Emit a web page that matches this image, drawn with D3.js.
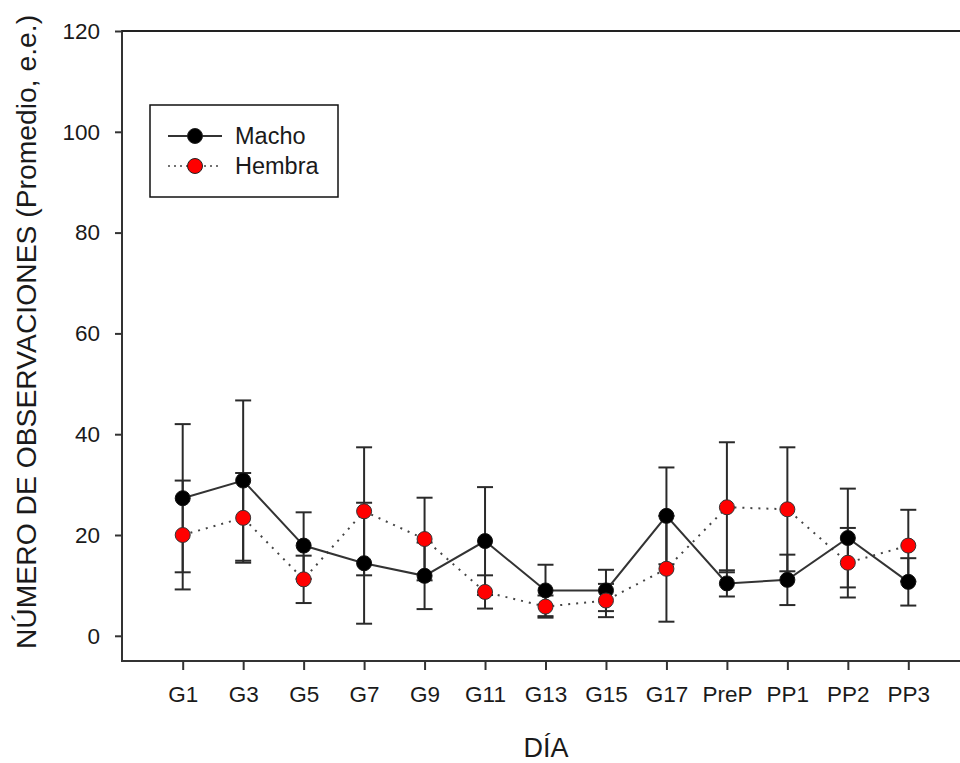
<!DOCTYPE html>
<html>
<head>
<meta charset="utf-8">
<script src="https://cdn.jsdelivr.net/npm/d3@7"></script>
<style>
  html, body { margin: 0; padding: 0; background: #fff; }
  text { font-family: "Liberation Sans", Arial, sans-serif; fill: #1a1a1a; }
</style>
</head>
<body>
<svg id="chart" width="960" height="763"></svg>
<script>
const categories = ["G1","G3","G5","G7","G9","G11","G13","G15","G17","PreP","PP1","PP2","PP3"];
const machoMean  = [27.3, 30.8, 17.9, 14.4, 11.9, 18.8, 9.0, 9.0, 23.8, 10.4, 11.1, 19.4, 10.7];
const machoErr   = [14.7, 15.9, 6.6, 12.0, 6.6, 10.7, 5.1, 4.1, 9.6, 2.6, 5.0, 9.8, 4.7];
const hembraMean = [20.0, 23.4, 11.2, 24.7, 19.2, 8.7, 5.8, 7.0, 13.3, 25.5, 25.1, 14.5, 17.9];
const hembraErr  = [10.8, 8.9, 4.7, 12.7, 8.2, 3.3, 2.2, 3.3, 10.5, 12.9, 12.3, 6.9, 7.1];
const yTicks = [0, 20, 40, 60, 80, 100, 120];
const seriesNames = ["Macho", "Hembra"];

const svg = d3.select("#chart");
const pLeft = 122, pRight = 960, pTop = 31, pBottom = 661;

const x = d3.scalePoint().domain(categories).range([182.7, 908.3]);
const y = d3.scaleLinear().domain([-5, 120]).range([pBottom, pTop]);

const axisColor = "#333";

// Axes
const gy = svg.append("g").attr("transform", `translate(${pLeft},0)`)
  .call(d3.axisLeft(y).tickValues(yTicks).tickSize(7).tickSizeOuter(0).tickPadding(15));
gy.select(".domain").remove();
gy.selectAll(".tick line").attr("stroke", axisColor).attr("stroke-width", 2);
gy.selectAll(".tick text").attr("font-size", 22.5).style("font-family", "Liberation Sans, Arial, sans-serif").attr("fill", "#1a1a1a");

const gx = svg.append("g").attr("transform", `translate(0,${pBottom})`)
  .call(d3.axisBottom(x).tickSize(9).tickPadding(16));
gx.select(".domain").remove();
gx.selectAll(".tick line").attr("stroke", axisColor).attr("stroke-width", 2);
gx.selectAll(".tick text").attr("font-size", 22.5).style("font-family", "Liberation Sans, Arial, sans-serif").attr("fill", "#1a1a1a");

svg.append("line").attr("x1", pLeft).attr("x2", pLeft).attr("y1", pTop - 1).attr("y2", pBottom + 1)
  .attr("stroke", axisColor).attr("stroke-width", 2);
svg.append("line").attr("x1", pLeft).attr("x2", pRight).attr("y1", pBottom).attr("y2", pBottom)
  .attr("stroke", axisColor).attr("stroke-width", 2);
svg.append("line").attr("x1", pLeft).attr("x2", pRight).attr("y1", pTop).attr("y2", pTop)
  .attr("stroke", "#222").attr("stroke-width", 2);

// Titles
svg.append("text").attr("x", 546).attr("y", 757).attr("text-anchor", "middle")
  .attr("font-size", 27).text("DÍA");
svg.append("text").attr("transform", "translate(36,332) rotate(-90)").attr("text-anchor", "middle")
  .attr("font-size", 28.3).text("NÚMERO DE OBSERVACIONES (Promedio, e.e.)");

const data = categories.map((c, i) => ({
  c, mm: machoMean[i], me: machoErr[i], hm: hembraMean[i], he: hembraErr[i]
}));

function errBars(meanKey, errKey) {
  const g = svg.append("g").attr("stroke", "#2a2a2a").attr("stroke-width", 2);
  data.forEach(d => {
    const cx = x(d.c);
    const lo = y(d[meanKey] - d[errKey]), hi = y(d[meanKey] + d[errKey]);
    g.append("line").attr("x1", cx).attr("x2", cx).attr("y1", lo).attr("y2", hi);
    g.append("line").attr("x1", cx - 8).attr("x2", cx + 8).attr("y1", lo).attr("y2", lo);
    g.append("line").attr("x1", cx - 8).attr("x2", cx + 8).attr("y1", hi).attr("y2", hi);
  });
}
errBars("mm", "me");
errBars("hm", "he");

const lineM = d3.line().x(d => x(d.c)).y(d => y(d.mm));
const lineH = d3.line().x(d => x(d.c)).y(d => y(d.hm));

svg.append("path").datum(data).attr("d", lineH).attr("fill", "none")
  .attr("stroke", "#444").attr("stroke-width", 2).attr("stroke-dasharray", "2,6");
svg.append("path").datum(data).attr("d", lineM).attr("fill", "none")
  .attr("stroke", "#333").attr("stroke-width", 2);

svg.append("g").selectAll("circle").data(data).join("circle")
  .attr("cx", d => x(d.c)).attr("cy", d => y(d.mm)).attr("r", 7.5)
  .attr("fill", "#000").attr("stroke", "#111").attr("stroke-width", 1);
svg.append("g").selectAll("circle").data(data).join("circle")
  .attr("cx", d => x(d.c)).attr("cy", d => y(d.hm)).attr("r", 7.5)
  .attr("fill", "#ff0000").attr("stroke", "#333").attr("stroke-width", 1);

// Legend
const lg = svg.append("g");
lg.append("rect").attr("x", 150).attr("y", 105).attr("width", 188).attr("height", 92)
  .attr("fill", "#fff").attr("stroke", "#111").attr("stroke-width", 1.5);
const legendRows = [
  { name: seriesNames[0], fill: "#000", dash: null, yy: 136, stroke: "#333" },
  { name: seriesNames[1], fill: "#ff0000", dash: "2,4", yy: 166, stroke: "#444" }
];
legendRows.forEach(r => {
  lg.append("line").attr("x1", 168).attr("x2", 222).attr("y1", r.yy).attr("y2", r.yy)
    .attr("stroke", r.stroke).attr("stroke-width", r.dash ? 1.5 : 2)
    .attr("stroke-dasharray", r.dash);
  lg.append("circle").attr("cx", 195).attr("cy", r.yy).attr("r", 7.5)
    .attr("fill", r.fill).attr("stroke", "#222").attr("stroke-width", 1);
  lg.append("text").attr("x", 235).attr("y", r.yy + 8).attr("font-size", 23.5).text(r.name);
});
</script>
</body>
</html>
